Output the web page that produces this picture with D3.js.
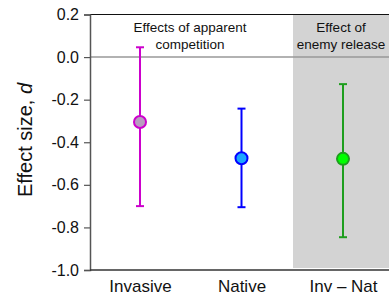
<!DOCTYPE html>
<html><head><meta charset="utf-8">
<script src="https://cdn.jsdelivr.net/npm/d3@7"></script>
<style>body{margin:0;background:#fff}svg{display:block}</style>
</head><body>
<script>
const categories = ["Invasive", "Native", "Inv \u2013 Nat"];
const means = [-0.305, -0.475, -0.478];
const lower = [-0.700, -0.705, -0.846];
const upper = [0.046, -0.242, -0.127];
const strokeColors = ["#cc00cc", "#0000ff", "#1e9e1e"];
const fillColors = ["#b89cc0", "#1ba6ff", "#00ff00"];
const yTicks = [0.2, 0.0, -0.2, -0.4, -0.6, -0.8, -1.0];

const W = 389, H = 296;
const m = {left: 90, right: 0, top: 14.5, bottom: 26};
const svg = d3.select("body").append("svg").attr("width", W).attr("height", H);

const y = d3.scaleLinear().domain([-1.0, 0.2]).range([H - m.bottom, m.top]);
const x = d3.scalePoint().domain(categories).range([140, 343]);

// grey region for enemy release
svg.append("rect").attr("x", 293).attr("y", y(0.2)).attr("width", W - 293)
  .attr("height", y(-1.0) - y(0.2) - 2).attr("fill", "#d3d3d3");

// top border
svg.append("line").attr("x1", m.left).attr("x2", W).attr("y1", y(0.2)).attr("y2", y(0.2))
  .attr("stroke", "#111").attr("stroke-width", 1.2);
// zero line
svg.append("line").attr("x1", m.left).attr("x2", W).attr("y1", y(0)).attr("y2", y(0))
  .attr("stroke", "#999").attr("stroke-width", 1.5);

// y axis
const yAxis = svg.append("g").attr("transform", `translate(${m.left},0)`)
  .call(d3.axisLeft(y).tickValues(yTicks).tickFormat(d3.format(".1f")).tickSize(6).tickPadding(5));
yAxis.select(".domain").attr("stroke", "#555").attr("stroke-width", 1.5);
yAxis.selectAll(".tick line").attr("stroke", "#555").attr("stroke-width", 1.2);
yAxis.selectAll("text").attr("font-family", "Liberation Sans, Arial, sans-serif")
  .attr("font-size", 16).attr("fill", "#111").text(d => d3.format(".1f")(d).replace("\u2212", "-"));

// bottom axis
const xAxis = svg.append("g").attr("transform", `translate(0,${y(-1.0)})`)
  .call(d3.axisBottom(x).tickSize(0).tickPadding(10));
xAxis.select(".domain").remove();
svg.append("line").attr("x1", m.left).attr("x2", W).attr("y1", y(-1.0)).attr("y2", y(-1.0))
  .attr("stroke", "#333").attr("stroke-width", 1.5);
xAxis.selectAll("text").attr("font-family", "Liberation Sans, Arial, sans-serif")
  .attr("font-size", 17).attr("fill", "#111");

// y title
svg.append("text").attr("transform", "translate(32,140) rotate(-90)")
  .attr("text-anchor", "middle").attr("font-family", "Liberation Sans, Arial, sans-serif")
  .attr("font-size", 20).attr("fill", "#111")
  .call(t => { t.append("tspan").text("Effect size, "); t.append("tspan").attr("font-style", "italic").text("d"); });

// headers
const hf = "Liberation Sans Narrow, Arial Narrow, Liberation Sans, Arial, sans-serif";
[["Effects of apparent", "competition", 190], ["Effect of", "enemy release", 341]].forEach(([a, b, cx]) => {
  svg.append("text").attr("x", cx).attr("y", 32).attr("text-anchor", "middle")
    .attr("font-family", hf).attr("font-size", 13.5).attr("fill", "#111").text(a);
  svg.append("text").attr("x", cx).attr("y", 49).attr("text-anchor", "middle")
    .attr("font-family", hf).attr("font-size", 13.5).attr("fill", "#111").text(b);
});

// error bars and points
const g = svg.append("g");
categories.forEach((c, i) => {
  const cx = x(c);
  g.append("line").attr("x1", cx).attr("x2", cx).attr("y1", y(upper[i])).attr("y2", y(lower[i]))
    .attr("stroke", strokeColors[i]).attr("stroke-width", 2);
  [upper[i], lower[i]].forEach(v => {
    g.append("line").attr("x1", cx - 4).attr("x2", cx + 4).attr("y1", y(v)).attr("y2", y(v))
      .attr("stroke", strokeColors[i]).attr("stroke-width", 2);
  });
  g.append("circle").attr("cx", cx).attr("cy", y(means[i])).attr("r", 6)
    .attr("fill", fillColors[i]).attr("stroke", strokeColors[i]).attr("stroke-width", 2);
});
</script>
</body></html>
